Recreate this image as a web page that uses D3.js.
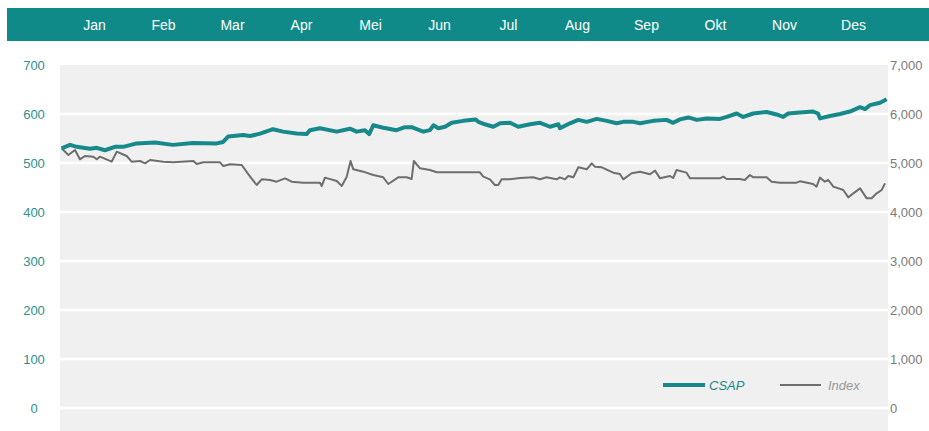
<!DOCTYPE html>
<html>
<head>
<meta charset="utf-8">
<script src="https://cdn.jsdelivr.net/npm/d3@7"></script>
<style>
  body { margin: 0; background: #fff; }
  svg { display: block; font-family: "Liberation Sans", Arial, sans-serif; }
</style>
</head>
<body>
<div id="chart"></div>
<script>
const months = ["Jan", "Feb", "Mar", "Apr", "Mei", "Jun", "Jul", "Aug", "Sep", "Okt", "Nov", "Des"];
const leftTicks = [0, 100, 200, 300, 400, 500, 600, 700];
const rightTicks = [0, 1000, 2000, 3000, 4000, 5000, 6000, 7000];

// day of year, value (left axis)
const csapDays = [0.7, 4.4, 7.4, 13.2, 16.2, 19.8, 24.2, 27.9, 33.8, 41.9, 49.8, 58.6, 69.1, 71.9, 74.1, 80.7, 83.8, 88.2, 93.9, 98.3, 104.3, 108.7, 110.2, 114.6, 122, 127.8, 130.8, 134.4, 136.3, 138.1, 142.5, 148.4, 152.1, 155, 160.1, 163.1, 164.6, 166.8, 169.7, 172.7, 177.8, 183.2, 184.4, 187.3, 191, 194, 198.4, 202, 207.2, 211.6, 216, 219.7, 220.4, 224.8, 228.5, 232.2, 236.6, 241, 245.4, 248.3, 252.7, 255.7, 261.5, 267.4, 270.3, 273.3, 277, 280.7, 285.1, 290.9, 293.9, 298.3, 301.2, 305.6, 311.5, 315.9, 318.8, 321, 326.2, 332, 334.2, 335, 339.4, 343.8, 348.2, 352.7, 354.9, 357, 361.5, 364.4];
const csapValues = [530, 537, 533, 529, 531, 526, 533, 533, 540, 542, 537, 541, 540, 543, 554, 557, 555, 560, 569, 564, 560, 559, 567, 571, 564, 570, 564, 567, 559, 577, 572, 567, 573, 573, 564, 567, 577, 571, 574, 582, 586, 589, 584, 579, 574, 581, 582, 574, 579, 582, 574, 579, 571, 581, 588, 584, 590, 586, 581, 584, 584, 581, 586, 588, 582, 589, 593, 588, 591, 590, 594, 601, 594, 601, 604, 599, 594, 601, 603, 605, 601, 591, 596, 600, 605, 614, 610, 618, 623, 630];

// day of year, value (right axis)
const indexDays = [0.7, 3.7, 6.6, 8.8, 11, 14.7, 16.2, 17.6, 22.8, 25, 29.4, 31.6, 35.3, 37.5, 39.7, 45.5, 49.9, 58.8, 60.3, 63.2, 70.5, 72, 74.9, 80.1, 83.8, 86.7, 88.9, 92.6, 95.5, 99.2, 102.1, 107.2, 114.6, 115.4, 116.8, 122, 124.2, 126.4, 127.1, 128.1, 129.3, 133.7, 138.1, 142.5, 144.7, 149.1, 152.8, 155, 156, 158.7, 163.1, 166.1, 177.8, 185.1, 186.6, 189.5, 191.7, 193.2, 194.7, 198.4, 202.8, 208.6, 211.6, 214.5, 218.9, 220.4, 222.6, 224.1, 226.3, 228.5, 232.2, 234.4, 235.8, 238.8, 243.9, 246.8, 248.3, 252, 255.7, 260.1, 262.3, 264.5, 268.9, 270.3, 271.8, 276.2, 277.7, 282.1, 290.9, 292.4, 293.9, 299.7, 301.9, 304.1, 305.6, 311.5, 313.7, 317.4, 324.7, 326.2, 332, 333.5, 335, 337.2, 338.7, 340.9, 345.3, 347.5, 349.7, 352.7, 355.6, 357.8, 360, 362.2, 363.7];
const indexValues = [5300, 5163, 5265, 5075, 5143, 5129, 5075, 5129, 5027, 5231, 5143, 5027, 5041, 4993, 5061, 5027, 5014, 5041, 4980, 5014, 5014, 4939, 4973, 4959, 4721, 4551, 4667, 4653, 4619, 4687, 4619, 4599, 4599, 4531, 4701, 4633, 4531, 4721, 4857, 5041, 4871, 4823, 4755, 4708, 4571, 4708, 4708, 4673, 5041, 4891, 4857, 4810, 4810, 4810, 4721, 4667, 4551, 4551, 4667, 4667, 4694, 4708, 4667, 4708, 4667, 4708, 4667, 4735, 4708, 4912, 4871, 4993, 4925, 4912, 4803, 4776, 4667, 4790, 4823, 4769, 4844, 4687, 4735, 4694, 4857, 4803, 4687, 4687, 4687, 4721, 4673, 4673, 4653, 4755, 4708, 4708, 4619, 4599, 4599, 4626, 4571, 4517, 4701, 4619, 4653, 4517, 4449, 4299, 4381, 4483, 4279, 4279, 4381, 4449, 4585];

const W = 929, H = 431;
const teal = "#17898a";
const plot = { left: 60, right: 888, top: 65, bottom: 408 };

const svg = d3.select("#chart").append("svg").attr("width", W).attr("height", H);

// header band with months
svg.append("rect")
  .attr("x", 7).attr("y", 8).attr("width", W - 7).attr("height", 33)
  .attr("fill", "#0f8a89");

const xMonth = d3.scaleBand().domain(months).range([plot.left, plot.right]);
svg.selectAll(".month")
  .data(months)
  .enter()
  .append("text")
  .attr("class", "month")
  .attr("x", (d) => xMonth(d) + xMonth.bandwidth() / 2)
  .attr("y", 25)
  .attr("dy", "0.35em")
  .attr("text-anchor", "middle")
  .attr("fill", "#fff")
  .style("font-size", "14px")
  .text((d) => d);

// plot background
svg.append("rect")
  .attr("x", plot.left).attr("y", plot.top)
  .attr("width", plot.right - plot.left).attr("height", H - plot.top)
  .attr("fill", "#f0f0f0");

const x = d3.scaleLinear().domain([0, 365]).range([plot.left, plot.right]);
const yL = d3.scaleLinear().domain([0, 700]).range([plot.bottom, plot.top]);
const yR = d3.scaleLinear().domain([0, 7000]).range([plot.bottom, plot.top]);

// gridlines
svg.selectAll(".grid")
  .data(leftTicks.filter((d) => d < 700))
  .enter()
  .append("line")
  .attr("x1", plot.left).attr("x2", plot.right)
  .attr("y1", (d) => yL(d)).attr("y2", (d) => yL(d))
  .attr("stroke", "#fff")
  .attr("stroke-width", 2.5);

// left axis labels
const leftAxis = svg.append("g")
  .attr("transform", "translate(34,0)")
  .call(d3.axisLeft(yL).tickValues(leftTicks).tickSize(0).tickPadding(0));
leftAxis.select(".domain").remove();
leftAxis.selectAll("text")
  .attr("text-anchor", "middle")
  .attr("fill", "#2e8f8f")
  .style("font-size", "13px")
  .style("font-family", "'Liberation Sans', Arial, sans-serif");

// right axis labels
const rightAxis = svg.append("g")
  .attr("transform", "translate(890,0)")
  .call(d3.axisRight(yR).tickValues(rightTicks).tickSize(0).tickPadding(0).tickFormat(d3.format(",")));
rightAxis.select(".domain").remove();
rightAxis.selectAll("text")
  .attr("fill", "#7a7a7a")
  .style("font-size", "13px")
  .style("font-family", "'Liberation Sans', Arial, sans-serif");

// lines
const indexLine = d3.line()
  .x((d, i) => x(indexDays[i]))
  .y((d) => yR(d));
svg.append("path")
  .datum(indexValues)
  .attr("fill", "none")
  .attr("stroke", "#6e6e6e")
  .attr("stroke-width", 2)
  .attr("stroke-linejoin", "round")
  .attr("d", indexLine);

const csapLine = d3.line()
  .x((d, i) => x(csapDays[i]))
  .y((d) => yL(d));
svg.append("path")
  .datum(csapValues)
  .attr("fill", "none")
  .attr("stroke", teal)
  .attr("stroke-width", 4)
  .attr("stroke-linejoin", "round")
  .attr("d", csapLine);

// legend
const legend = svg.append("g");
legend.append("line")
  .attr("x1", 663).attr("x2", 705).attr("y1", 385).attr("y2", 385)
  .attr("stroke", teal).attr("stroke-width", 4);
legend.append("text")
  .attr("x", 709).attr("y", 385).attr("dy", "0.35em")
  .attr("fill", teal)
  .style("font-size", "13px").style("font-style", "italic")
  .text("CSAP");
legend.append("line")
  .attr("x1", 780).attr("x2", 821).attr("y1", 385).attr("y2", 385)
  .attr("stroke", "#6e6e6e").attr("stroke-width", 2);
legend.append("text")
  .attr("x", 828).attr("y", 385).attr("dy", "0.35em")
  .attr("fill", "#9a9a9a")
  .style("font-size", "13px").style("font-style", "italic")
  .text("Index");
</script>
</body>
</html>
